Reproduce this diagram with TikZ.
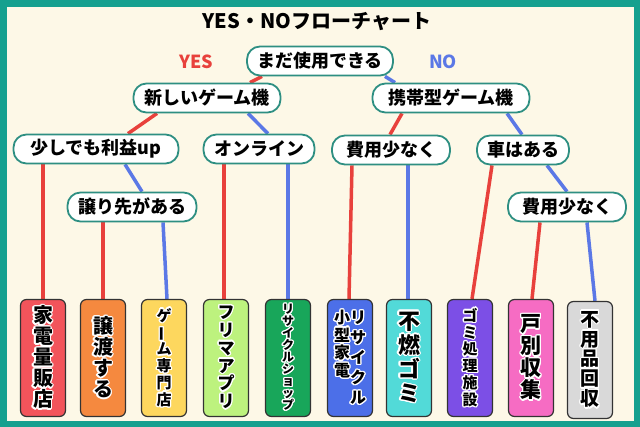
\documentclass[tikz,border=0pt]{standalone}
\usepackage{fontspec}
\usepackage{contour}
\usetikzlibrary{backgrounds}
\setmainfont{Noto Sans CJK JP}
\contourlength{1.3pt}
\definecolor{framecol}{HTML}{15A08F}
\definecolor{cream}{HTML}{FDF8E7}
\definecolor{askcol}{HTML}{2E8F82}
\definecolor{yescol}{HTML}{E8413C}
\definecolor{nocol}{HTML}{5B78E6}
\definecolor{c1}{HTML}{F2545B}
\definecolor{c2}{HTML}{F5893F}
\definecolor{c3}{HTML}{FDD75E}
\definecolor{c4}{HTML}{BDF27E}
\definecolor{c5}{HTML}{18A65A}
\definecolor{c6}{HTML}{4C6FE8}
\definecolor{c7}{HTML}{52DAD8}
\definecolor{c8}{HTML}{7C4FE6}
\definecolor{c9}{HTML}{F66CC3}
\definecolor{c10}{HTML}{D9D9D9}
% vertical text: one character per line, white outline
\newcommand{\chouon}{\rotatebox[origin=c]{90}{ー}}
\newcommand{\tate}[2][1.1]{\vtop{\baselineskip=#1em\lineskiplimit=-100pt\tatelist#2\relax}}
\def\tatelist#1{\ifx#1\relax\else\hbox to 1em{\hss\contour{white}{#1}\hss}\expandafter\tatelist\fi}
\tikzset{
  ask/.style={draw=askcol, fill=white, line width=1.8pt, rounded corners=13pt,
    minimum height=29pt, inner xsep=4pt, inner ysep=0pt,
    font=\fontsize{18}{18}\selectfont\bfseries},
  leaf/.style={draw=black!80, line width=1.2pt, rounded corners=6pt,
    minimum width=45pt, minimum height=117pt, inner sep=0pt, font=\bfseries},
  yes/.style={yescol, line width=3.5pt},
  no/.style={nocol, line width=3.5pt}
}
\begin{document}
\begin{tikzpicture}[x=1pt,y=-1pt]
% title and yes/no labels
\node (title) at (317,22) {\fontsize{20}{20}\selectfont\bfseries YES・NOフローチャート};
\node [yescol, font=\fontsize{18}{18}\selectfont\bfseries] (yeslabel) at (196,62) {YES};
\node [nocol, font=\fontsize{18}{18}\selectfont\bfseries] (nolabel) at (443,62) {NO};
% questions
\node [ask, minimum width=146pt] (usable) at (320,61) {まだ使用できる};
\node [ask, minimum width=147pt] (newgame) at (207,98) {新しいゲーム機};
\node [ask, minimum width=157pt] (portable) at (451,98) {携帯型ゲーム機};
\node [ask, minimum width=165pt] (profit) at (96,149) {少しでも利益up};
\node [ask, minimum width=111pt] (online) at (259,149) {オンライン};
\node [ask, minimum width=118pt] (cost) at (391,150) {費用少なく};
\node [ask, minimum width=92pt] (car) at (523,150) {車はある};
\node [ask, minimum width=129pt] (giveaway) at (132,207) {譲り先がある};
\node [ask, minimum width=118pt] (costb) at (567,207) {費用少なく};
% answers
\node [leaf, fill=c1] (s1) at (43,358) {\fontsize{20}{20}\selectfont\tate[1.05]{家電量販店}};
\node [leaf, fill=c2] (s2) at (103,358) {\fontsize{20}{20}\selectfont\tate[1.05]{譲渡する}};
\node [leaf, fill=c3] (s3) at (164,358) {\fontsize{15}{15}\selectfont\tate[1.12]{ゲ\chouon ム専門店}};
\node [leaf, fill=c4] (s4) at (226,358) {\fontsize{17}{17}\selectfont\tate[1.05]{フリマアプリ}};
\node [leaf, fill=c5] (s5) at (288,358) {\fontsize{12}{12}\selectfont\tate[1.0]{リサイクルショップ}};
\node [leaf, fill=c6] (s6) at (350,358) {\fontsize{16}{16}\selectfont\tate[1.1]{小型家電}\tate[1.25]{リサイクル}};
\node [leaf, fill=c7] (s7) at (409,358) {\fontsize{22}{22}\selectfont\tate[1.1]{不燃ゴミ}};
\node [leaf, fill=c8] (s8) at (470,358) {\fontsize{15}{15}\selectfont\tate[1.12]{ゴミ処理施設}};
\node [leaf, fill=c9] (s9) at (531,358) {\fontsize{21}{21}\selectfont\tate[1.05]{戸別収集}};
\node [leaf, fill=c10] (s10) at (590,360) {\fontsize{19}{19}\selectfont\tate[1.05]{不用品回収}};
\begin{scope}[on background layer]
\fill [framecol] (0,0) rectangle (640,427);
\fill [cream] (7,7) rectangle (634,421);
% yes = red, no = blue
\draw [yes] ([xshift=-58pt]usable.south) -- ([xshift=43pt]newgame.north);
\draw [no] ([xshift=65pt]usable.south) -- ([xshift=-56pt]portable.north);
\draw [yes] ([xshift=-50pt]newgame.south) -- ([xshift=32pt]profit.north);
\draw [no] ([xshift=41pt]newgame.south) -- ([xshift=9pt]online.north);
\draw [yes] ([xshift=-49pt]portable.south) -- ([xshift=-1pt]cost.north);
\draw [no] ([xshift=56pt]portable.south) -- ([xshift=-1pt]car.north);
\draw [yes] (profit.south -| s1.north) -- (s1.north);
\draw [no] ([xshift=29pt]profit.south) -- ([xshift=10pt]giveaway.north);
\draw [yes] (giveaway.south -| s2.north) -- (s2.north);
\draw [no] ([xshift=31pt]giveaway.south) -- ([xshift=3pt]s3.north);
\draw [yes] ([xshift=-35pt]online.south) -- ([xshift=-2pt]s4.north);
\draw [no] ([xshift=29pt]online.south) -- (s5.north);
\draw [yes] ([xshift=-39pt]cost.south) -- ([xshift=-1pt]s6.north);
\draw [no] ([xshift=17pt]cost.south) -- ([xshift=-1pt]s7.north);
\draw [yes] ([xshift=-31pt]car.south) -- ([xshift=2pt]s8.north);
\draw [no] ([xshift=24pt]car.south) -- (costb.north);
\draw [yes] ([xshift=-27pt]costb.south) -- ([xshift=1pt]s9.north);
\draw [no] ([xshift=20pt]costb.south) -- ([xshift=5pt]s10.north);
\end{scope}
\end{tikzpicture}
\end{document}
